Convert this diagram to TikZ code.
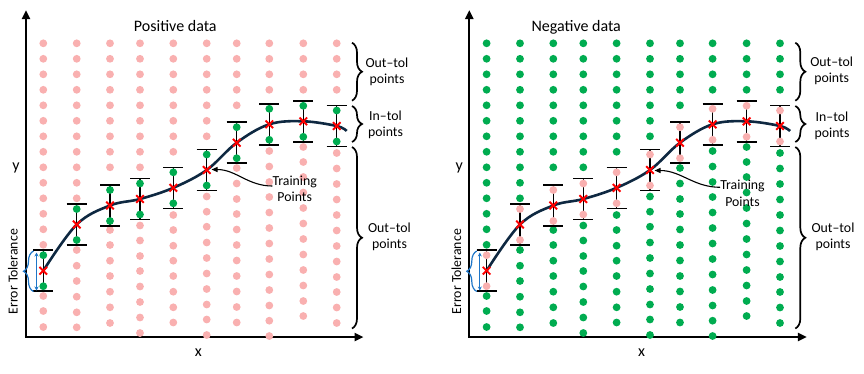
\documentclass[tikz,border=0pt]{standalone}
\usepackage{fontspec}
\setmainfont{Carlito}
\usetikzlibrary{arrows.meta,decorations.pathreplacing}
\definecolor{pinkdot}{RGB}{249,176,176}
\definecolor{greendot}{RGB}{0,172,80}
\definecolor{curvecol}{RGB}{14,40,65}
\definecolor{tolblue}{RGB}{30,118,200}
\definecolor{xred}{RGB}{255,0,0}
\tikzset{
  axisline/.style={line width=2.3pt,-{Triangle[length=9pt,width=8pt]}},
  barline/.style={line width=1.3pt,black},
  capline/.style={line width=1.6pt,black},
  fitcurve/.style={line width=2.6pt,curvecol},
  xmarkline/.style={line width=1.9pt,xred},
  bracestyle/.style={decorate,decoration={brace,amplitude=10pt},line width=1.7pt},
  tolbrace/.style={decorate,decoration={brace,amplitude=10pt},line width=1.2pt,tolblue},
  tolarrow/.style={line width=1.2pt,tolblue,{Stealth[length=4pt,width=4pt]}-{Stealth[length=4pt,width=4pt]}},
  trainarrow/.style={line width=1.1pt,black,-{Triangle[length=6pt,width=5pt]}},
  titlelbl/.style={font=\fontsize{16pt}{19pt}\selectfont,inner sep=0pt},
  smalllbl/.style={font=\fontsize{13.8pt}{16.3pt}\selectfont,align=center,inner sep=0pt},
  axlbl/.style={font=\fontsize{16pt}{19pt}\selectfont,inner sep=0pt},
}
\newcommand{\drawpanel}[3]{%
  \coordinate (o#3) at (26,337);
  \coordinate (ytip#3) at (26,10);
  \coordinate (xtip#3) at (363.5,337);
  \draw[axisline] (o#3) -- (ytip#3);
  \draw[axisline] ([xshift=-1.15pt]o#3) -- (xtip#3);
  \foreach \cx/\na/\lst in {43.3/13/{296,311,327},
      76.7/10/{250,265.7,281,296.7,312.3,327.3},
      110/8/{230,245,260.7,276,291.7,307.3,323},
      140/8/{225.5,240.5,256,271,286.5,302,317.5,333},
      173.3/7/{215,230,245.7,260.7,276,291.7,307.3,322.5},
      206.7/6/{196.5,211.7,226.7,242.5,258,273.5,289,304.5,319.5,335},
      236.7/4/{168,183.5,199,214,229.5,245,260.5,276,291.5,307,322.5},
      269.3/3/{151,166.5,182,197,212.5,228,243.5,259,274.5,290,305.5,320.7,336},
      303.3/3/{147,162,177,192.5,208,223.5,239,254.5,270,285.5,301,316},
      336.7/3/{153,168.5,184,199.5,215,230.5,246,261.5,277,292,307.5,323}}{
    \foreach \k in {0,...,\na} \fill[#1] (\cx,{43.3+15.5*\k}) circle[radius=3.9pt];
    \foreach \yy in \lst \fill[#1] (\cx,\yy) circle[radius=3.9pt];
  }
  \foreach \cx/\cy in {43.3/270.7,76.7/224.5,110/205.5,140/199,173.3/187.8,206.7/170,236.7/142.7,269.3/124.3,303.3/121.3,336.7/126}{
    \draw[barline] (\cx,\cy-20.5) -- (\cx,\cy+20.5);
    \draw[capline] (\cx-10,\cy-20.5) -- (\cx+10,\cy-20.5) (\cx-10,\cy+20.5) -- (\cx+10,\cy+20.5);
    \fill[#2] (\cx,\cy-15.5) circle[radius=3.9pt] (\cx,\cy+15.5) circle[radius=3.9pt];
  }
  \draw[fitcurve] plot[smooth,tension=0.6] coordinates {(43.3,270.7) (76.7,224.5) (110,205.5) (140,199) (173.3,187.8) (206.7,170) (236.7,142.7) (269.3,124.3) (303.3,121.3) (336.7,126) (346.7,131)};
  \foreach \cx/\cy in {43.3/270.7,76.7/224.5,110/205.5,140/199,173.3/187.8,206.7/170,236.7/142.7,269.3/124.3,303.3/121.3,336.7/126}{
    \draw[xmarkline] (\cx-3.8,\cy-3.8) -- (\cx+3.8,\cy+3.8) (\cx-3.8,\cy+3.8) -- (\cx+3.8,\cy-3.8);
  }
  \coordinate (bt1#3) at (352,42.7);  \coordinate (bb1#3) at (352,100.7);
  \coordinate (bt2#3) at (352,106);   \coordinate (bb2#3) at (352,142);
  \coordinate (bt3#3) at (352,147);   \coordinate (bb3#3) at (352,328.5);
  \draw[bracestyle] (bt1#3) -- (bb1#3);
  \draw[bracestyle] (bt2#3) -- (bb2#3);
  \draw[bracestyle] (bt3#3) -- (bb3#3);
  \coordinate (tb1#3) at (33.5,291.5); \coordinate (tb2#3) at (33.5,251);
  \draw[tolbrace] (tb1#3) -- (tb2#3);
  \coordinate (ta1#3) at (36.5,252.5); \coordinate (ta2#3) at (36.5,290.5);
  \draw[tolarrow] (ta1#3) -- (ta2#3);
}
\begin{document}
\begin{tikzpicture}[x=1pt,y=-1pt]
\useasboundingbox (0,0) rectangle (864,373);
\drawpanel{pinkdot}{greendot}{L}
\begin{scope}[xshift=443.3pt]
\drawpanel{greendot}{pinkdot}{R}
\end{scope}
% titles
\node[titlelbl,anchor=base] (titleL) at (175.3,31.7) {Positive data};
\node[titlelbl,anchor=base] (titleR) at (576.2,31.7) {Negative data};
% axis labels
\node[axlbl] (xlabL) at (198.3,352.7) {x};
\node[axlbl] (xlabR) at (641.6,352.7) {x};
\node[axlbl] (ylabL) at (16,168.3) {y};
\node[axlbl] (ylabR) at (459.3,168.3) {y};
% error tolerance
\node[smalllbl,rotate=90] (etolL) at (13,271.7) {Error Tolerance};
\node[smalllbl,rotate=90] (etolR) at (456.3,271.7) {Error Tolerance};
% brace labels
\node[smalllbl] (outtopL) at (387,71.7) {Out–tol\\points};
\node[smalllbl] (intolL) at (385.5,124.5) {In–tol\\points};
\node[smalllbl] (outbotL) at (389.5,236.7) {Out–tol\\points};
\node[smalllbl] (outtopR) at (831.7,70.5) {Out–tol\\points};
\node[smalllbl] (intolR) at (832,125.5) {In–tol\\points};
\node[smalllbl] (outbotR) at (833,236.7) {Out–tol\\points};
% training points
\node[smalllbl] (trainL) at (294.7,189) {Training\\Points};
\coordinate (trainptL) at (211.5,169.5);
\draw[trainarrow] ([yshift=3pt]trainL.west) to[out=180,in=0] (trainptL);
\node[smalllbl] (trainR) at (742.5,193.3) {Training\\Points};
\coordinate (trainptR) at (654.5,170.5);
\draw[trainarrow] ([yshift=6pt]trainR.west) to[out=180,in=0] (trainptR);
\end{tikzpicture}
\end{document}
